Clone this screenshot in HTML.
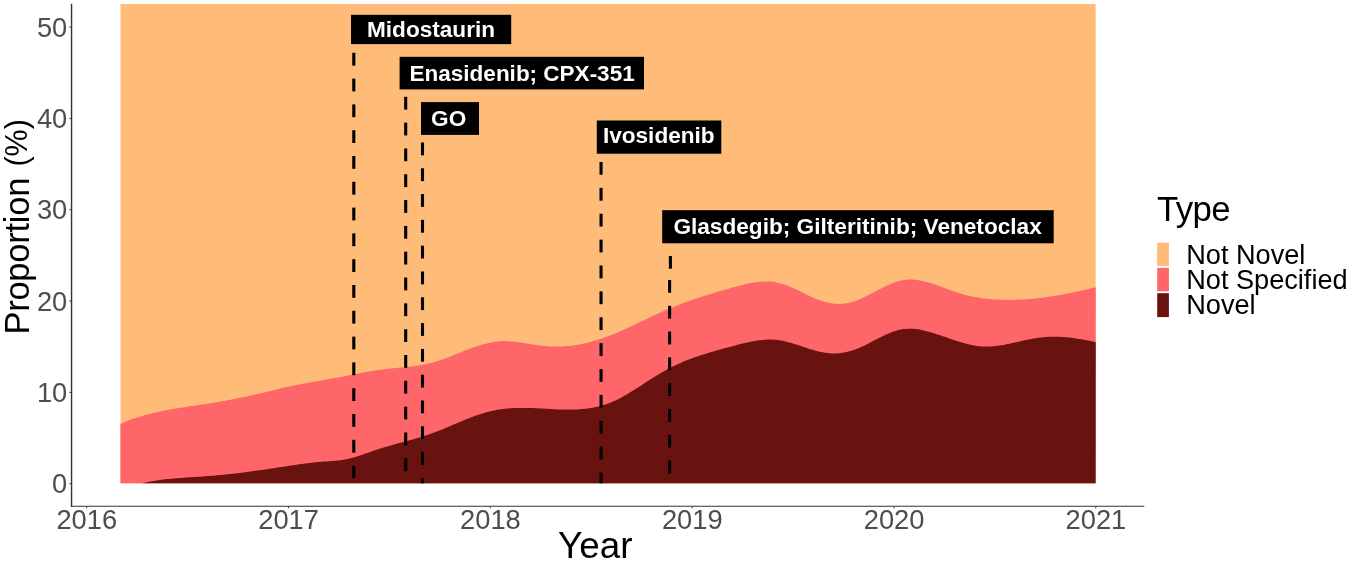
<!DOCTYPE html>
<html lang="en">
<head>
<meta charset="utf-8">
<title>Proportion by Type over Year</title>
<style>
html,body{margin:0;padding:0;background:#fff;}
body{width:1350px;height:562px;overflow:hidden;position:relative;font-family:"Liberation Sans",sans-serif;}
svg text{font-family:"Liberation Sans",sans-serif;}
svg{will-change:transform;}
</style>
</head>
<body>
<svg width="1350" height="562" viewBox="0 0 1350 562" style="position:absolute;left:0;top:0;display:block">
<rect x="0" y="0" width="1350" height="562" fill="#ffffff"/>
<rect x="120.5" y="4.0" width="975.1" height="479.3" fill="#FEBC78"/>
<path d="M120.5,423.9 L122.5,423.0 L124.5,422.2 L126.5,421.4 L128.5,420.6 L130.5,419.8 L132.5,419.1 L134.5,418.4 L136.5,417.7 L138.5,417.1 L140.5,416.4 L142.5,415.9 L144.5,415.3 L146.5,414.7 L148.5,414.2 L150.5,413.7 L152.5,413.2 L154.5,412.7 L156.5,412.2 L158.5,411.8 L160.5,411.4 L162.5,411.0 L164.5,410.6 L166.5,410.2 L168.5,409.8 L170.5,409.4 L172.5,409.1 L174.5,408.8 L176.5,408.4 L178.5,408.1 L180.5,407.8 L182.5,407.5 L184.5,407.2 L186.5,406.9 L188.5,406.6 L190.5,406.3 L192.5,406.0 L194.5,405.7 L196.5,405.4 L198.5,405.1 L200.5,404.8 L202.5,404.5 L204.5,404.2 L206.5,403.9 L208.5,403.6 L210.5,403.3 L212.5,403.0 L214.5,402.6 L216.5,402.3 L218.5,402.0 L220.5,401.6 L222.5,401.2 L224.5,400.9 L226.5,400.5 L228.5,400.1 L230.5,399.7 L232.5,399.4 L234.5,399.0 L236.5,398.6 L238.5,398.1 L240.5,397.7 L242.5,397.3 L244.5,396.9 L246.5,396.5 L248.5,396.0 L250.5,395.6 L252.5,395.1 L254.5,394.7 L256.5,394.2 L258.5,393.8 L260.5,393.3 L262.5,392.8 L264.5,392.4 L266.5,391.9 L268.5,391.4 L270.5,390.9 L272.5,390.4 L274.5,389.9 L276.5,389.4 L278.5,389.0 L280.5,388.5 L282.5,388.0 L284.5,387.5 L286.5,387.1 L288.5,386.6 L290.5,386.2 L292.5,385.8 L294.5,385.4 L296.5,384.9 L298.5,384.6 L300.5,384.2 L302.5,383.8 L304.5,383.4 L306.5,383.0 L308.5,382.7 L310.5,382.3 L312.5,382.0 L314.5,381.6 L316.5,381.3 L318.5,380.9 L320.5,380.6 L322.5,380.2 L324.5,379.9 L326.5,379.5 L328.5,379.2 L330.5,378.8 L332.5,378.5 L334.5,378.1 L336.5,377.8 L338.5,377.4 L340.5,377.0 L342.5,376.7 L344.5,376.3 L346.5,375.9 L348.5,375.5 L350.5,375.1 L352.5,374.7 L354.5,374.3 L356.5,373.9 L358.5,373.5 L360.5,373.1 L362.5,372.7 L364.5,372.3 L366.5,371.9 L368.5,371.6 L370.5,371.2 L372.5,370.9 L374.5,370.5 L376.5,370.2 L378.5,369.9 L380.5,369.7 L382.5,369.4 L384.5,369.2 L386.5,369.0 L388.5,368.7 L390.5,368.5 L392.5,368.3 L394.5,368.2 L396.5,368.0 L398.5,367.8 L400.5,367.6 L402.5,367.4 L404.5,367.2 L406.5,367.0 L408.5,366.8 L410.5,366.5 L412.5,366.3 L414.5,366.0 L416.5,365.7 L418.5,365.4 L420.5,365.1 L422.5,364.7 L424.5,364.4 L426.5,363.9 L428.5,363.5 L430.5,363.0 L432.5,362.5 L434.5,362.0 L436.5,361.4 L438.5,360.7 L440.5,360.1 L442.5,359.4 L444.5,358.7 L446.5,357.9 L448.5,357.2 L450.5,356.4 L452.5,355.6 L454.5,354.8 L456.5,354.0 L458.5,353.2 L460.5,352.4 L462.5,351.6 L464.5,350.8 L466.5,350.1 L468.5,349.3 L470.5,348.5 L472.5,347.8 L474.5,347.1 L476.5,346.4 L478.5,345.7 L480.5,345.1 L482.5,344.5 L484.5,344.0 L486.5,343.4 L488.5,343.0 L490.5,342.5 L492.5,342.2 L494.5,341.8 L496.5,341.6 L498.5,341.4 L500.5,341.2 L502.5,341.1 L504.5,341.1 L506.5,341.2 L508.5,341.2 L510.5,341.4 L512.5,341.6 L514.5,341.8 L516.5,342.0 L518.5,342.3 L520.5,342.5 L522.5,342.8 L524.5,343.2 L526.5,343.5 L528.5,343.8 L530.5,344.1 L532.5,344.4 L534.5,344.7 L536.5,345.0 L538.5,345.3 L540.5,345.5 L542.5,345.7 L544.5,345.9 L546.5,346.1 L548.5,346.3 L550.5,346.4 L552.5,346.5 L554.5,346.5 L556.5,346.6 L558.5,346.5 L560.5,346.5 L562.5,346.4 L564.5,346.3 L566.5,346.1 L568.5,346.0 L570.5,345.7 L572.5,345.5 L574.5,345.2 L576.5,344.9 L578.5,344.6 L580.5,344.2 L582.5,343.8 L584.5,343.4 L586.5,342.9 L588.5,342.4 L590.5,341.9 L592.5,341.3 L594.5,340.8 L596.5,340.2 L598.5,339.6 L600.5,338.9 L602.5,338.2 L604.5,337.5 L606.5,336.8 L608.5,336.1 L610.5,335.3 L612.5,334.5 L614.5,333.7 L616.5,332.9 L618.5,332.0 L620.5,331.1 L622.5,330.3 L624.5,329.4 L626.5,328.4 L628.5,327.5 L630.5,326.6 L632.5,325.7 L634.5,324.7 L636.5,323.8 L638.5,322.8 L640.5,321.8 L642.5,320.9 L644.5,319.9 L646.5,318.9 L648.5,318.0 L650.5,317.0 L652.5,316.1 L654.5,315.2 L656.5,314.2 L658.5,313.3 L660.5,312.4 L662.5,311.5 L664.5,310.6 L666.5,309.8 L668.5,308.9 L670.5,308.1 L672.5,307.3 L674.5,306.4 L676.5,305.7 L678.5,304.9 L680.5,304.1 L682.5,303.4 L684.5,302.6 L686.5,301.9 L688.5,301.2 L690.5,300.5 L692.5,299.8 L694.5,299.1 L696.5,298.4 L698.5,297.8 L700.5,297.1 L702.5,296.5 L704.5,295.8 L706.5,295.2 L708.5,294.6 L710.5,294.0 L712.5,293.4 L714.5,292.8 L716.5,292.2 L718.5,291.6 L720.5,291.0 L722.5,290.4 L724.5,289.8 L726.5,289.2 L728.5,288.7 L730.5,288.1 L732.5,287.5 L734.5,287.0 L736.5,286.4 L738.5,285.9 L740.5,285.4 L742.5,284.9 L744.5,284.4 L746.5,283.9 L748.5,283.5 L750.5,283.1 L752.5,282.7 L754.5,282.4 L756.5,282.1 L758.5,281.9 L760.5,281.7 L762.5,281.6 L764.5,281.5 L766.5,281.5 L768.5,281.5 L770.5,281.6 L772.5,281.8 L774.5,282.1 L776.5,282.4 L778.5,282.9 L780.5,283.4 L782.5,283.9 L784.5,284.6 L786.5,285.3 L788.5,286.1 L790.5,286.9 L792.5,287.8 L794.5,288.7 L796.5,289.6 L798.5,290.6 L800.5,291.5 L802.5,292.5 L804.5,293.5 L806.5,294.5 L808.5,295.4 L810.5,296.4 L812.5,297.3 L814.5,298.2 L816.5,299.0 L818.5,299.8 L820.5,300.5 L822.5,301.2 L824.5,301.8 L826.5,302.4 L828.5,302.8 L830.5,303.2 L832.5,303.5 L834.5,303.7 L836.5,303.8 L838.5,303.9 L840.5,303.9 L842.5,303.8 L844.5,303.6 L846.5,303.3 L848.5,302.9 L850.5,302.5 L852.5,301.9 L854.5,301.3 L856.5,300.6 L858.5,299.8 L860.5,299.0 L862.5,298.1 L864.5,297.1 L866.5,296.1 L868.5,295.1 L870.5,294.1 L872.5,293.0 L874.5,291.9 L876.5,290.8 L878.5,289.8 L880.5,288.7 L882.5,287.7 L884.5,286.7 L886.5,285.8 L888.5,284.9 L890.5,284.0 L892.5,283.2 L894.5,282.5 L896.5,281.8 L898.5,281.2 L900.5,280.7 L902.5,280.3 L904.5,280.0 L906.5,279.8 L908.5,279.6 L910.5,279.6 L912.5,279.6 L914.5,279.8 L916.5,280.0 L918.5,280.2 L920.5,280.5 L922.5,280.9 L924.5,281.4 L926.5,281.9 L928.5,282.4 L930.5,283.0 L932.5,283.6 L934.5,284.3 L936.5,285.0 L938.5,285.7 L940.5,286.4 L942.5,287.2 L944.5,287.9 L946.5,288.7 L948.5,289.4 L950.5,290.2 L952.5,290.9 L954.5,291.6 L956.5,292.3 L958.5,292.9 L960.5,293.6 L962.5,294.2 L964.5,294.7 L966.5,295.2 L968.5,295.7 L970.5,296.1 L972.5,296.5 L974.5,296.9 L976.5,297.3 L978.5,297.6 L980.5,297.9 L982.5,298.2 L984.5,298.4 L986.5,298.7 L988.5,298.9 L990.5,299.1 L992.5,299.2 L994.5,299.4 L996.5,299.5 L998.5,299.6 L1000.5,299.7 L1002.5,299.8 L1004.5,299.8 L1006.5,299.9 L1008.5,299.9 L1010.5,299.9 L1012.5,299.9 L1014.5,299.8 L1016.5,299.8 L1018.5,299.7 L1020.5,299.6 L1022.5,299.5 L1024.5,299.4 L1026.5,299.2 L1028.5,299.1 L1030.5,298.9 L1032.5,298.7 L1034.5,298.6 L1036.5,298.3 L1038.5,298.1 L1040.5,297.9 L1042.5,297.6 L1044.5,297.4 L1046.5,297.1 L1048.5,296.8 L1050.5,296.5 L1052.5,296.2 L1054.5,295.9 L1056.5,295.6 L1058.5,295.2 L1060.5,294.9 L1062.5,294.5 L1064.5,294.1 L1066.5,293.7 L1068.5,293.3 L1070.5,292.9 L1072.5,292.5 L1074.5,292.1 L1076.5,291.7 L1078.5,291.2 L1080.5,290.8 L1082.5,290.3 L1084.5,289.9 L1086.5,289.4 L1088.5,289.0 L1090.5,288.5 L1092.5,288.0 L1094.5,287.5 L1095.7,287.2 L1095.6,483.3 L120.5,483.3 Z" fill="#FF6669"/>
<path d="M120.5,483.3 L141.5,483.3 L143.5,482.9 L145.5,482.4 L147.5,482.0 L149.5,481.7 L151.5,481.3 L153.5,481.0 L155.5,480.7 L157.5,480.4 L159.5,480.1 L161.5,479.8 L163.5,479.6 L165.5,479.3 L167.5,479.1 L169.5,478.9 L171.5,478.7 L173.5,478.5 L175.5,478.4 L177.5,478.2 L179.5,478.0 L181.5,477.9 L183.5,477.7 L185.5,477.6 L187.5,477.5 L189.5,477.3 L191.5,477.2 L193.5,477.1 L195.5,476.9 L197.5,476.8 L199.5,476.7 L201.5,476.6 L203.5,476.4 L205.5,476.3 L207.5,476.1 L209.5,476.0 L211.5,475.8 L213.5,475.7 L215.5,475.5 L217.5,475.3 L219.5,475.1 L221.5,474.9 L223.5,474.7 L225.5,474.5 L227.5,474.3 L229.5,474.1 L231.5,473.9 L233.5,473.7 L235.5,473.4 L237.5,473.2 L239.5,472.9 L241.5,472.7 L243.5,472.4 L245.5,472.2 L247.5,471.9 L249.5,471.6 L251.5,471.4 L253.5,471.1 L255.5,470.8 L257.5,470.5 L259.5,470.2 L261.5,470.0 L263.5,469.7 L265.5,469.4 L267.5,469.1 L269.5,468.8 L271.5,468.5 L273.5,468.2 L275.5,467.9 L277.5,467.6 L279.5,467.3 L281.5,467.0 L283.5,466.7 L285.5,466.4 L287.5,466.1 L289.5,465.8 L291.5,465.5 L293.5,465.2 L295.5,464.9 L297.5,464.6 L299.5,464.3 L301.5,464.1 L303.5,463.8 L305.5,463.5 L307.5,463.3 L309.5,463.0 L311.5,462.8 L313.5,462.6 L315.5,462.3 L317.5,462.1 L319.5,462.0 L321.5,461.8 L323.5,461.6 L325.5,461.5 L327.5,461.4 L329.5,461.3 L331.5,461.1 L333.5,461.0 L335.5,460.8 L337.5,460.6 L339.5,460.4 L341.5,460.1 L343.5,459.8 L345.5,459.5 L347.5,459.0 L349.5,458.6 L351.5,458.1 L353.5,457.5 L355.5,456.9 L357.5,456.3 L359.5,455.7 L361.5,455.0 L363.5,454.3 L365.5,453.6 L367.5,452.9 L369.5,452.2 L371.5,451.5 L373.5,450.8 L375.5,450.1 L377.5,449.5 L379.5,448.8 L381.5,448.2 L383.5,447.5 L385.5,446.9 L387.5,446.4 L389.5,445.8 L391.5,445.2 L393.5,444.7 L395.5,444.1 L397.5,443.6 L399.5,443.0 L401.5,442.5 L403.5,441.9 L405.5,441.4 L407.5,440.9 L409.5,440.3 L411.5,439.8 L413.5,439.2 L415.5,438.6 L417.5,438.1 L419.5,437.5 L421.5,436.9 L423.5,436.2 L425.5,435.6 L427.5,434.9 L429.5,434.3 L431.5,433.6 L433.5,432.8 L435.5,432.1 L437.5,431.3 L439.5,430.5 L441.5,429.7 L443.5,428.9 L445.5,428.0 L447.5,427.2 L449.5,426.3 L451.5,425.5 L453.5,424.6 L455.5,423.7 L457.5,422.9 L459.5,422.0 L461.5,421.2 L463.5,420.4 L465.5,419.6 L467.5,418.8 L469.5,418.0 L471.5,417.2 L473.5,416.5 L475.5,415.8 L477.5,415.1 L479.5,414.5 L481.5,413.8 L483.5,413.2 L485.5,412.6 L487.5,412.1 L489.5,411.6 L491.5,411.1 L493.5,410.6 L495.5,410.2 L497.5,409.8 L499.5,409.5 L501.5,409.2 L503.5,408.9 L505.5,408.7 L507.5,408.5 L509.5,408.3 L511.5,408.2 L513.5,408.1 L515.5,408.0 L517.5,407.9 L519.5,407.9 L521.5,407.9 L523.5,407.9 L525.5,407.9 L527.5,407.9 L529.5,408.0 L531.5,408.0 L533.5,408.1 L535.5,408.2 L537.5,408.3 L539.5,408.4 L541.5,408.5 L543.5,408.6 L545.5,408.7 L547.5,408.8 L549.5,409.0 L551.5,409.1 L553.5,409.2 L555.5,409.3 L557.5,409.4 L559.5,409.4 L561.5,409.5 L563.5,409.6 L565.5,409.6 L567.5,409.6 L569.5,409.6 L571.5,409.6 L573.5,409.6 L575.5,409.5 L577.5,409.4 L579.5,409.3 L581.5,409.1 L583.5,409.0 L585.5,408.7 L587.5,408.5 L589.5,408.2 L591.5,407.9 L593.5,407.5 L595.5,407.1 L597.5,406.7 L599.5,406.2 L601.5,405.6 L603.5,405.0 L605.5,404.4 L607.5,403.7 L609.5,403.0 L611.5,402.2 L613.5,401.3 L615.5,400.4 L617.5,399.4 L619.5,398.4 L621.5,397.4 L623.5,396.3 L625.5,395.1 L627.5,394.0 L629.5,392.8 L631.5,391.6 L633.5,390.3 L635.5,389.1 L637.5,387.8 L639.5,386.5 L641.5,385.2 L643.5,383.9 L645.5,382.6 L647.5,381.3 L649.5,380.0 L651.5,378.7 L653.5,377.5 L655.5,376.2 L657.5,375.0 L659.5,373.8 L661.5,372.6 L663.5,371.4 L665.5,370.3 L667.5,369.2 L669.5,368.2 L671.5,367.1 L673.5,366.2 L675.5,365.2 L677.5,364.3 L679.5,363.4 L681.5,362.5 L683.5,361.6 L685.5,360.8 L687.5,360.0 L689.5,359.3 L691.5,358.5 L693.5,357.8 L695.5,357.1 L697.5,356.4 L699.5,355.7 L701.5,355.0 L703.5,354.4 L705.5,353.8 L707.5,353.2 L709.5,352.6 L711.5,352.0 L713.5,351.4 L715.5,350.8 L717.5,350.2 L719.5,349.7 L721.5,349.1 L723.5,348.6 L725.5,348.1 L727.5,347.5 L729.5,347.0 L731.5,346.4 L733.5,345.9 L735.5,345.4 L737.5,344.8 L739.5,344.3 L741.5,343.8 L743.5,343.3 L745.5,342.9 L747.5,342.4 L749.5,342.0 L751.5,341.6 L753.5,341.2 L755.5,340.8 L757.5,340.5 L759.5,340.3 L761.5,340.0 L763.5,339.9 L765.5,339.7 L767.5,339.6 L769.5,339.6 L771.5,339.6 L773.5,339.7 L775.5,339.8 L777.5,340.0 L779.5,340.3 L781.5,340.6 L783.5,341.0 L785.5,341.5 L787.5,341.9 L789.5,342.5 L791.5,343.1 L793.5,343.7 L795.5,344.3 L797.5,344.9 L799.5,345.6 L801.5,346.3 L803.5,346.9 L805.5,347.6 L807.5,348.3 L809.5,348.9 L811.5,349.5 L813.5,350.1 L815.5,350.7 L817.5,351.2 L819.5,351.7 L821.5,352.1 L823.5,352.5 L825.5,352.8 L827.5,353.1 L829.5,353.3 L831.5,353.4 L833.5,353.4 L835.5,353.4 L837.5,353.3 L839.5,353.2 L841.5,352.9 L843.5,352.6 L845.5,352.2 L847.5,351.8 L849.5,351.3 L851.5,350.7 L853.5,350.1 L855.5,349.4 L857.5,348.6 L859.5,347.7 L861.5,346.8 L863.5,345.9 L865.5,344.9 L867.5,343.9 L869.5,342.9 L871.5,341.8 L873.5,340.8 L875.5,339.7 L877.5,338.7 L879.5,337.7 L881.5,336.7 L883.5,335.7 L885.5,334.8 L887.5,333.9 L889.5,333.1 L891.5,332.3 L893.5,331.6 L895.5,330.9 L897.5,330.3 L899.5,329.8 L901.5,329.4 L903.5,329.1 L905.5,328.9 L907.5,328.7 L909.5,328.7 L911.5,328.7 L913.5,328.8 L915.5,329.0 L917.5,329.3 L919.5,329.6 L921.5,330.0 L923.5,330.4 L925.5,330.9 L927.5,331.4 L929.5,332.0 L931.5,332.5 L933.5,333.2 L935.5,333.8 L937.5,334.4 L939.5,335.1 L941.5,335.8 L943.5,336.5 L945.5,337.1 L947.5,337.8 L949.5,338.5 L951.5,339.2 L953.5,339.9 L955.5,340.5 L957.5,341.2 L959.5,341.8 L961.5,342.4 L963.5,343.0 L965.5,343.5 L967.5,344.0 L969.5,344.5 L971.5,344.9 L973.5,345.3 L975.5,345.7 L977.5,346.0 L979.5,346.2 L981.5,346.4 L983.5,346.5 L985.5,346.6 L987.5,346.6 L989.5,346.5 L991.5,346.4 L993.5,346.3 L995.5,346.1 L997.5,345.8 L999.5,345.5 L1001.5,345.2 L1003.5,344.9 L1005.5,344.5 L1007.5,344.1 L1009.5,343.7 L1011.5,343.3 L1013.5,342.8 L1015.5,342.4 L1017.5,341.9 L1019.5,341.5 L1021.5,341.0 L1023.5,340.6 L1025.5,340.1 L1027.5,339.7 L1029.5,339.3 L1031.5,338.9 L1033.5,338.5 L1035.5,338.2 L1037.5,337.9 L1039.5,337.6 L1041.5,337.4 L1043.5,337.2 L1045.5,337.0 L1047.5,336.9 L1049.5,336.8 L1051.5,336.8 L1053.5,336.7 L1055.5,336.7 L1057.5,336.8 L1059.5,336.8 L1061.5,336.9 L1063.5,337.1 L1065.5,337.2 L1067.5,337.4 L1069.5,337.6 L1071.5,337.8 L1073.5,338.1 L1075.5,338.4 L1077.5,338.7 L1079.5,339.0 L1081.5,339.3 L1083.5,339.7 L1085.5,340.0 L1087.5,340.4 L1089.5,340.8 L1091.5,341.3 L1093.5,341.7 L1095.5,342.2 L1095.7,342.2 L1095.6,483.3 L120.5,483.3 Z" fill="#691311"/>
<g fill="#000000">
<rect x="352.25" y="52.80" width="3.10" height="12.80"/><rect x="352.25" y="78.60" width="3.10" height="12.80"/><rect x="352.25" y="104.40" width="3.10" height="12.80"/><rect x="352.25" y="130.20" width="3.10" height="12.80"/><rect x="352.25" y="156.00" width="3.10" height="12.80"/><rect x="352.25" y="181.80" width="3.10" height="12.80"/><rect x="352.25" y="207.60" width="3.10" height="12.80"/><rect x="352.25" y="233.40" width="3.10" height="12.80"/><rect x="352.25" y="259.20" width="3.10" height="12.80"/><rect x="352.25" y="285.00" width="3.10" height="12.80"/><rect x="352.25" y="310.80" width="3.10" height="12.80"/><rect x="352.25" y="336.60" width="3.10" height="12.80"/><rect x="352.25" y="362.40" width="3.10" height="12.80"/><rect x="352.25" y="388.20" width="3.10" height="12.80"/><rect x="352.25" y="414.00" width="3.10" height="12.80"/><rect x="352.25" y="439.80" width="3.10" height="12.80"/><rect x="352.25" y="465.60" width="3.10" height="12.80"/>
<rect x="404.15" y="96.80" width="3.10" height="12.80"/><rect x="404.15" y="122.62" width="3.10" height="12.80"/><rect x="404.15" y="148.44" width="3.10" height="12.80"/><rect x="404.15" y="174.26" width="3.10" height="12.80"/><rect x="404.15" y="200.08" width="3.10" height="12.80"/><rect x="404.15" y="225.90" width="3.10" height="12.80"/><rect x="404.15" y="251.72" width="3.10" height="12.80"/><rect x="404.15" y="277.54" width="3.10" height="12.80"/><rect x="404.15" y="303.36" width="3.10" height="12.80"/><rect x="404.15" y="329.18" width="3.10" height="12.80"/><rect x="404.15" y="355.00" width="3.10" height="12.80"/><rect x="404.15" y="380.82" width="3.10" height="12.80"/><rect x="404.15" y="406.64" width="3.10" height="12.80"/><rect x="404.15" y="432.46" width="3.10" height="12.80"/><rect x="404.15" y="458.28" width="3.10" height="12.80"/>
<rect x="420.95" y="142.50" width="3.10" height="12.80"/><rect x="420.95" y="168.30" width="3.10" height="12.80"/><rect x="420.95" y="194.10" width="3.10" height="12.80"/><rect x="420.95" y="219.90" width="3.10" height="12.80"/><rect x="420.95" y="245.70" width="3.10" height="12.80"/><rect x="420.95" y="271.50" width="3.10" height="12.80"/><rect x="420.95" y="297.30" width="3.10" height="12.80"/><rect x="420.95" y="323.10" width="3.10" height="12.80"/><rect x="420.95" y="348.90" width="3.10" height="12.80"/><rect x="420.95" y="374.70" width="3.10" height="12.80"/><rect x="420.95" y="400.50" width="3.10" height="12.80"/><rect x="420.95" y="426.30" width="3.10" height="12.80"/><rect x="420.95" y="452.10" width="3.10" height="12.80"/><rect x="420.95" y="477.90" width="3.10" height="5.40"/>
<rect x="599.50" y="162.00" width="3.10" height="12.80"/><rect x="599.50" y="187.88" width="3.10" height="12.80"/><rect x="599.50" y="213.76" width="3.10" height="12.80"/><rect x="599.50" y="239.64" width="3.10" height="12.80"/><rect x="599.50" y="265.52" width="3.10" height="12.80"/><rect x="599.50" y="291.40" width="3.10" height="12.80"/><rect x="599.50" y="317.28" width="3.10" height="12.80"/><rect x="599.50" y="343.16" width="3.10" height="12.80"/><rect x="599.50" y="369.04" width="3.10" height="12.80"/><rect x="599.50" y="394.92" width="3.10" height="12.80"/><rect x="599.50" y="420.80" width="3.10" height="12.80"/><rect x="599.50" y="446.68" width="3.10" height="12.80"/><rect x="599.50" y="472.56" width="3.10" height="10.74"/>
<rect x="668.85" y="256.0" width="3.10" height="12.7"/>
<rect x="668.05" y="280.00" width="3.10" height="12.80"/><rect x="668.05" y="305.80" width="3.10" height="12.80"/><rect x="668.05" y="331.60" width="3.10" height="12.80"/><rect x="668.05" y="357.40" width="3.10" height="12.80"/><rect x="668.05" y="383.20" width="3.10" height="12.80"/><rect x="668.05" y="409.00" width="3.10" height="12.80"/><rect x="668.05" y="434.80" width="3.10" height="12.80"/><rect x="668.05" y="460.60" width="3.10" height="12.80"/>
</g>
<rect x="351.0" y="14.8" width="160.2" height="29.3" fill="#000"/>
<text x="367.0" y="37.3" font-size="22.60" font-weight="bold" fill="#fff">Midostaurin</text>
<rect x="399.6" y="56.8" width="244.4" height="32.6" fill="#000"/>
<text x="409.6" y="81.4" font-size="22.50" font-weight="bold" fill="#fff">Enasidenib; CPX-351</text>
<rect x="421.0" y="102.1" width="58.0" height="32.8" fill="#000"/>
<text x="431.1" y="126.4" font-size="22.60" font-weight="bold" fill="#fff">GO</text>
<rect x="596.8" y="120.5" width="124.5" height="33.2" fill="#000"/>
<text x="602.9" y="143.1" font-size="22.60" font-weight="bold" fill="#fff">Ivosidenib</text>
<rect x="662.2" y="210.2" width="391.5" height="33.1" fill="#000"/>
<text x="673.4" y="233.5" font-size="22.63" font-weight="bold" fill="#fff">Glasdegib; Gilteritinib; Venetoclax</text>
<line x1="71.55" y1="3.8" x2="71.55" y2="506.85" stroke="#333333" stroke-width="1.4"/>
<line x1="70.85" y1="506.3" x2="1144.3" y2="506.3" stroke="#333333" stroke-width="1.1"/>
<line x1="69.4" y1="483.7" x2="71" y2="483.7" stroke="#333333" stroke-width="1"/>
<text x="67.3" y="493.4" font-size="27.3" text-anchor="end" fill="#4D4D4D">0</text>
<line x1="69.4" y1="392.4" x2="71" y2="392.4" stroke="#333333" stroke-width="1"/>
<text x="67.3" y="402.1" font-size="27.3" text-anchor="end" fill="#4D4D4D">10</text>
<line x1="69.4" y1="301.0" x2="71" y2="301.0" stroke="#333333" stroke-width="1"/>
<text x="67.3" y="310.7" font-size="27.3" text-anchor="end" fill="#4D4D4D">20</text>
<line x1="69.4" y1="209.7" x2="71" y2="209.7" stroke="#333333" stroke-width="1"/>
<text x="67.3" y="219.4" font-size="27.3" text-anchor="end" fill="#4D4D4D">30</text>
<line x1="69.4" y1="118.4" x2="71" y2="118.4" stroke="#333333" stroke-width="1"/>
<text x="67.3" y="128.1" font-size="27.3" text-anchor="end" fill="#4D4D4D">40</text>
<line x1="69.4" y1="27.1" x2="71" y2="27.1" stroke="#333333" stroke-width="1"/>
<text x="67.3" y="36.8" font-size="27.3" text-anchor="end" fill="#4D4D4D">50</text>
<line x1="86.7" y1="506.6" x2="86.7" y2="508.3" stroke="#333333" stroke-width="1"/>
<text x="86.8" y="529.1" font-size="27.3" text-anchor="middle" fill="#4D4D4D">2016</text>
<line x1="288.5" y1="506.6" x2="288.5" y2="508.3" stroke="#333333" stroke-width="1"/>
<text x="288.6" y="529.1" font-size="27.3" text-anchor="middle" fill="#4D4D4D">2017</text>
<line x1="490.3" y1="506.6" x2="490.3" y2="508.3" stroke="#333333" stroke-width="1"/>
<text x="490.4" y="529.1" font-size="27.3" text-anchor="middle" fill="#4D4D4D">2018</text>
<line x1="692.2" y1="506.6" x2="692.2" y2="508.3" stroke="#333333" stroke-width="1"/>
<text x="692.3" y="529.1" font-size="27.3" text-anchor="middle" fill="#4D4D4D">2019</text>
<line x1="894.0" y1="506.6" x2="894.0" y2="508.3" stroke="#333333" stroke-width="1"/>
<text x="894.1" y="529.1" font-size="27.3" text-anchor="middle" fill="#4D4D4D">2020</text>
<line x1="1095.8" y1="506.6" x2="1095.8" y2="508.3" stroke="#333333" stroke-width="1"/>
<text x="1095.9" y="529.1" font-size="27.3" text-anchor="middle" fill="#4D4D4D">2021</text>
<text x="595.3" y="557.8" font-size="36.8" text-anchor="middle" fill="#000">Year</text>
<text transform="translate(28.6,334.6) rotate(-90)" font-size="34.6" letter-spacing="-0.28" fill="#000">Proportion</text>
<text transform="translate(27.3,166.6) rotate(-90)" font-size="30.5" fill="#000">(%)</text>
<text x="1156.9" y="221.2" font-size="34.8" letter-spacing="-0.6" fill="#000">Type</text>
<rect x="1157.2" y="242.6" width="11.7" height="23.3" fill="#FEBC78"/>
<rect x="1157.2" y="267.9" width="11.7" height="23.4" fill="#FF6669"/>
<rect x="1157.2" y="293.2" width="11.7" height="23.9" fill="#691311"/>
<text x="1186.2" y="263.8" font-size="27.15" fill="#000">Not Novel</text>
<text x="1186.2" y="288.9" font-size="27.15" fill="#000">Not Specified</text>
<text x="1186.2" y="314.1" font-size="27.15" fill="#000">Novel</text>
</svg>
</body>
</html>
